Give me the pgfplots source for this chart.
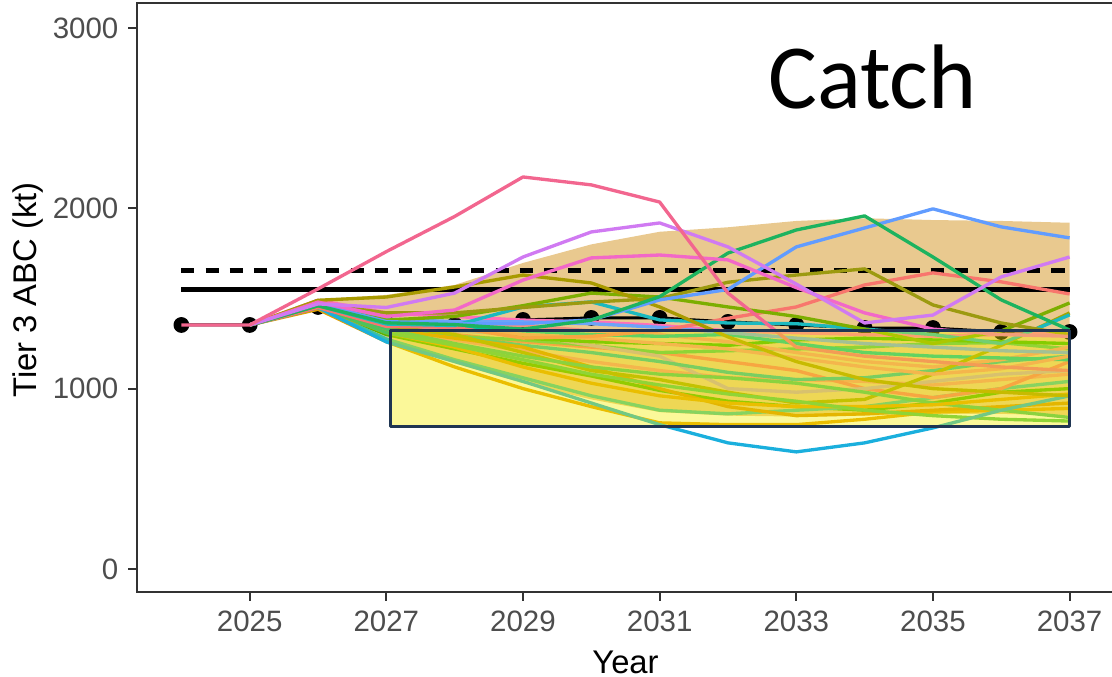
\documentclass[border=0pt]{standalone}
\usepackage{fontspec}
\setmainfont{Liberation Sans}
\newfontfamily\catchfont{Carlito}
\usepackage{pgfplots}
\usepackage{pgfplotstable}
\pgfplotsset{compat=1.18}
\usepgfplotslibrary{fillbetween}

\definecolor{grey20}{HTML}{333333}
\definecolor{grey30}{HTML}{4D4D4D}
\definecolor{ribbon}{HTML}{E9C98F}
\definecolor{boxfill}{HTML}{F6EE00}
\definecolor{boxline}{HTML}{1F3552}
\definecolor{cPinkTop}{HTML}{F2668F}
\definecolor{cViolet}{HTML}{D07AF2}
\definecolor{cMagenta}{HTML}{F268C8}
\definecolor{cGreen}{HTML}{1DB35F}
\definecolor{cBlue}{HTML}{619CFF}
\definecolor{cOlive}{HTML}{A89A00}
\definecolor{cOliveB}{HTML}{9C9A10}
\definecolor{cYG}{HTML}{7CAE00}
\definecolor{cTeal}{HTML}{1BB9BF}
\definecolor{cSalmon}{HTML}{F8766D}
\definecolor{cCyan}{HTML}{1AAFDD}
\definecolor{cOrange}{HTML}{E39E00}
\definecolor{cTealGreen}{HTML}{3EC1A0}
\definecolor{cGreenB}{HTML}{53B400}
\definecolor{cSalmonB}{HTML}{F3917F}
\definecolor{cLime}{HTML}{4DC35A}
\definecolor{cGrayPink}{HTML}{C4A3B8}
\definecolor{cTealB}{HTML}{27B9A2}
\definecolor{cOrangeB}{HTML}{D89000}
\definecolor{cGreenC}{HTML}{39B600}
\definecolor{cTealC}{HTML}{00C1A3}
\definecolor{cYGB}{HTML}{A3A500}
\definecolor{cMint}{HTML}{45C06A}
\definecolor{cPinkB}{HTML}{FF6FB8}
\definecolor{cBlueB}{HTML}{6BA4F8}

% simulated catch trajectories (kt)
\pgfplotstableread{
year s1 s2 s3 s4 s5 s6 s7 s8 s9 s10 s11 s12 s13 s14 s15 s16 s17 s18 s19 s20 s21 s22 s23 s24 s25 s26 s27 s28 s29 s30
2024 1353 nan nan nan nan nan nan nan nan nan nan nan nan nan nan nan nan nan nan nan nan nan nan nan nan nan nan nan nan nan
2025 1353 1353 1353 1353 1353 1353 1353 1353 1353 1353 1353 1353 1353 1353 1353 1353 1353 1353 1353 1353 1353 1353 1353 1353 1353 1353 1353 1353 1353 1353
2026 1553 1470 1480 1460 1470 1490 1470 1460 1460 1450 1450 1440 1450 1455 1460 1470 1465 1470 1460 1470 1460 1480 1470 1470 1460 1450 1475 1490 1475 1455
2027 1760 1450 1400 1365 1372 1508 1420 1380 1358 1345 1259 1260 1275 1300 1320 1330 1335 1350 1340 1330 1378 1380 1350 1350 1330 1310 1360 1420 1385 1310
2028 1955 1530 1436 1355 1360 1564 1420 1400 1350 1340 1150 1120 1160 1220 1270 1300 1290 1320 1290 1280 1365 1360 1345 1300 1250 1230 1330 1400 1372 1240
2029 2174 1730 1602 1330 1360 1630 1450 1460 1453 1280 1040 1000 1060 1140 1210 1260 1270 1300 1240 1230 1280 1350 1320 1200 1180 1120 1300 1380 1370 1160
2030 2130 1869 1725 1380 1381 1586 1480 1530 1481 1290 920 900 960 1070 1150 1230 1240 1240 1200 1120 1260 1320 1300 1100 1120 1030 1280 1370 1360 1080
2031 2035 1919 1741 1510 1492 1453 1500 1508 1381 1320 800 810 880 990 1100 1200 1200 1180 1150 1000 1250 1300 1290 1050 1080 960 1250 1350 1340 1020
2032 1530 1786 1714 1752 1550 1287 1590 1453 1364 1390 699 800 860 930 1060 1150 1210 1000 1090 900 1240 1260 1300 980 1060 920 1220 1320 1310 970
2033 1230 1580 1560 1880 1786 1150 1630 1400 1360 1453 649 800 880 900 1050 1100 1220 980 1050 850 1270 1200 1250 920 1030 900 1170 1310 1280 930
2034 1180 1364 1420 1958 1891 1050 1664 1330 1330 1575 699 830 900 880 1040 1000 1230 1000 1060 860 1280 1150 1200 940 980 900 1120 1300 1250 880
2035 1150 1408 1330 1730 1997 1000 1464 1250 1300 1642 782 870 950 920 1020 950 1250 1040 1100 880 1270 1120 1180 1080 920 910 1080 1290 1230 850
2036 1120 1620 1300 1492 1897 980 1364 1320 1250 1592 880 880 1000 980 1050 1000 1255 1080 1150 900 1260 1160 1170 1240 880 940 1110 1300 1210 830
2037 1100 1730 1290 1325 1836 960 1300 1475 1409 1525 960 890 1040 1000 1080 1150 1220 1100 1180 920 1250 1230 1160 1420 840 970 1180 1310 1200 820
}\runs

% observed / projected ABC
\pgfplotstableread{
year abc
2024 1353
2025 1353
2026 1453
2027 1365
2028 1355
2029 1381
2030 1392
2031 1392
2032 1370
2033 1353
2034 1336
2035 1336
2036 1314
2037 1314
}\abc

% interval band
\pgfplotstableread{
year lo hi
2026 1440 1495
2027 1265 1520
2028 1140 1575
2029 1030 1697
2030 940 1800
2031 870 1870
2032 850 1895
2033 845 1930
2034 850 1945
2035 860 1935
2036 860 1930
2037 850 1920
}\band

\begin{document}
\begin{tikzpicture}
\begin{axis}[
  set layers,
  scale only axis,
  width=351.7pt, height=212pt,
  xmin=2023.35, xmax=2037.65,
  ymin=-128, ymax=3139,
  xtick={2025,2027,...,2037},
  ytick={0,1000,2000,3000},
  /pgf/number format/1000 sep={},
  /pgf/number format/assume math mode=true,
  tick align=outside,
  major tick length=3.2pt,
  tick style={grey20, line width=0.75pt},
  xtick pos=bottom, ytick pos=left,
  axis line style={grey20, line width=0.7pt},
  ticklabel style={font=\fontsize{10.6}{12}\selectfont, text=grey30},
  every axis plot/.append style={line width=1.2pt, line join=round},
  clip=false,
]
% band
\addplot[name path=hi, draw=none] table[x=year, y=hi] {\band};
\addplot[name path=lo, draw=none] table[x=year, y=lo] {\band};
\addplot[ribbon, draw=none, on layer=axis background] fill between[of=hi and lo];

% ABC series (above the band, under the trajectories)
\addplot[black, line width=1.08pt, mark=*, mark size=2.3pt, mark options={solid, fill=black},
  on layer=pre main, mark layer=pre main] table[x=year, y=abc] {\abc};

% reference levels
\addplot[black, line width=1.8pt] coordinates {(2024,1547) (2037,1547)};
\addplot[black, line width=1.8pt, dash pattern=on 4.7pt off 4pt] coordinates {(2024,1653) (2037,1653)};

% trajectories
\addplot[cGreenB] table[x=year, y=s14] {\runs};
\addplot[cOrange] table[x=year, y=s12] {\runs};
\addplot[cTealGreen] table[x=year, y=s13] {\runs};
\addplot[cSalmonB] table[x=year, y=s15] {\runs};
\addplot[cSalmon] table[x=year, y=s16] {\runs};
\addplot[cLime] table[x=year, y=s17] {\runs};
\addplot[cGrayPink] table[x=year, y=s18] {\runs};
\addplot[cTealB] table[x=year, y=s19] {\runs};
\addplot[cOrangeB] table[x=year, y=s20] {\runs};
\addplot[cGreenC] table[x=year, y=s21] {\runs};
\addplot[cSalmonB] table[x=year, y=s22] {\runs};
\addplot[cTealC] table[x=year, y=s23] {\runs};
\addplot[cYGB] table[x=year, y=s24] {\runs};
\addplot[cMint] table[x=year, y=s25] {\runs};
\addplot[cOrange] table[x=year, y=s26] {\runs};
\addplot[cSalmonB] table[x=year, y=s27] {\runs};
\addplot[cPinkB] table[x=year, y=s28] {\runs};
\addplot[cBlueB] table[x=year, y=s29] {\runs};
\addplot[cLime] table[x=year, y=s30] {\runs};
\addplot[cCyan] table[x=year, y=s11] {\runs};
\addplot[cSalmon] table[x=year, y=s10] {\runs};
\addplot[cTeal] table[x=year, y=s9] {\runs};
\addplot[cYG] table[x=year, y=s8] {\runs};
\addplot[cOliveB] table[x=year, y=s7] {\runs};
\addplot[cOlive] table[x=year, y=s6] {\runs};
\addplot[cBlue] table[x=year, y=s5] {\runs};
\addplot[cGreen] table[x=year, y=s4] {\runs};
\addplot[cMagenta] table[x=year, y=s3] {\runs};
\addplot[cViolet] table[x=year, y=s2] {\runs};
\addplot[cPinkTop] table[x=year, y=s1] {\runs};

% highlight box
\addplot[draw=none, fill=boxfill, fill opacity=0.4] coordinates {(2027.06,1320) (2037,1320) (2037,788) (2027.06,788)} --cycle;
\addplot[boxline, line width=1.1pt] coordinates {(2027.06,1320) (2037,1320) (2037,788) (2027.06,788)} --cycle;

\node[anchor=base west, inner sep=0pt, font=\catchfont\fontsize{33}{36}\selectfont] at (axis cs:2032.58,2551) {Catch};
\end{axis}
\node[rotate=90, font=\fontsize{11.8}{14}\selectfont] at ([xshift=-39.2pt, yshift=2.7pt]current axis.west) {Tier 3 ABC (kt)};
\node[anchor=base, inner sep=0pt, font=\fontsize{11.8}{14}\selectfont] at ([yshift=-29.5pt]current axis.south) {Year};
\pgfresetboundingbox
\path[use as bounding box] ([xshift=-49.3pt, yshift=-30.6pt]current axis.south west) rectangle ([xshift=-0.72pt, yshift=1.08pt]current axis.north east);
\end{tikzpicture}
\end{document}
